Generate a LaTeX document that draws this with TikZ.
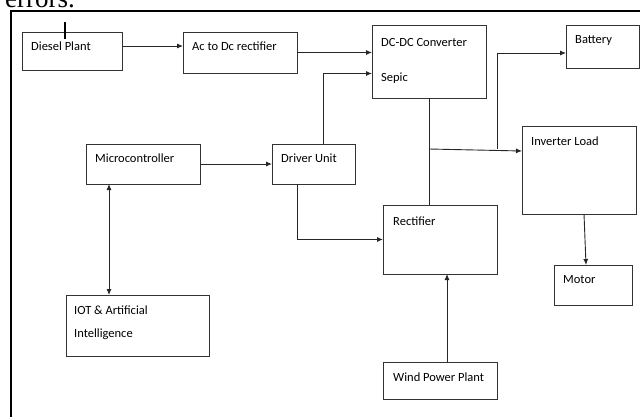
\documentclass[tikz,border=0pt]{standalone}
\usepackage{fontspec}
\setmainfont{Carlito}
\newfontfamily\pagefont{Liberation Serif}
\usepackage{tikz}
\usetikzlibrary{arrows.meta}
\tikzset{blockbox/.style={draw=black!80, line width=0.8pt, anchor=north west, inner sep=0pt, outer sep=0pt},
  blocktext/.style={anchor=base west, inner sep=0pt, text=black, font=\fontsize{12.5}{14}\selectfont},
  flowline/.style={draw=black!85, line width=0.9pt, -{Latex[length=6pt,width=5pt]}}
}

\begin{document}
\begin{tikzpicture}[x=1pt,y=-1pt]
      \useasboundingbox (0,0) rectangle (640,416);
      % cut line of the page text above
      \node[anchor=base west, inner sep=0pt, font=\pagefont\fontsize{27}{30}\selectfont] (pagetext) at (5,7) {errors.};
      \draw[line width=2.5pt] (11,420) -- (11,11) -- (645,11);
      % blocks
      \node[blockbox, minimum width=100pt, minimum height=38pt] (diesel) at (22,32) {};
      \node[blockbox, minimum width=114pt, minimum height=41pt] (acdc) at (183,32) {};
      \node[blockbox, minimum width=114pt, minimum height=73pt] (dcdc) at (372,25) {};
      \node[blockbox, minimum width=73pt, minimum height=43pt] (battery) at (566,25) {};
      \node[blockbox, minimum width=114pt, minimum height=88pt] (inverter) at (522,126) {};
      \node[blockbox, minimum width=78pt, minimum height=40pt] (motor) at (554,265) {};
      \node[blockbox, minimum width=114pt, minimum height=40pt] (micro) at (86,144) {};
      \node[blockbox, minimum width=83pt, minimum height=40pt] (driver) at (272,144) {};
      \node[blockbox, minimum width=114pt, minimum height=69pt] (rect) at (383,205) {};
      \node[blockbox, minimum width=143pt, minimum height=61pt] (iot) at (66,295) {};
      \node[blockbox, minimum width=114pt, minimum height=37pt] (wind) at (383,362) {};
      % block texts
      \node[blocktext] (diesel-t) at ([shift={(9,18)}]diesel.north west) {Diesel Plant};
      \node[blocktext] (acdc-t) at ([shift={(9,18)}]acdc.north west) {Ac to Dc rectifier};
      \node[blocktext] (dcdc-t) at ([shift={(9,21)}]dcdc.north west) {DC-DC Converter};
      \node[blocktext] (sepic-t) at ([shift={(9,56)}]dcdc.north west) {Sepic};
      \node[blocktext] (battery-t) at ([shift={(9,18)}]battery.north west) {Battery};
      \node[blocktext] (inverter-t) at ([shift={(9,19)}]inverter.north west) {Inverter Load};
      \node[blocktext] (motor-t) at ([shift={(9,18)}]motor.north west) {Motor};
      \node[blocktext] (micro-t) at ([shift={(9,18)}]micro.north west) {Microcontroller};
      \node[blocktext] (driver-t) at ([shift={(9,18)}]driver.north west) {Driver Unit};
      \node[blocktext] (rect-t) at ([shift={(10,20)}]rect.north west) {Rectifier};
      \node[blocktext] (iot-t) at ([shift={(8,19)}]iot.north west) {IOT \& Artificial};
      \node[blocktext] (iot-t2) at ([shift={(8,42)}]iot.north west) {Intelligence};
      \node[blocktext] (wind-t) at ([shift={(10,19)}]wind.north west) {Wind Power Plant};
      \draw[line width=1.2pt] ([shift={(43,-10)}]diesel.north west) coordinate (tick) -- ([yshift=-17pt]tick);
      % connectors
      \coordinate (j1) at ([yshift=-51pt]dcdc.south);
      \coordinate (j2) at ([xshift=68pt]j1);
      \draw[flowline] ([yshift=5pt]diesel.east) coordinate (d1) -- (d1 -| acdc.west);
      \draw[flowline] (acdc.east) -- (acdc.east -| dcdc.west);
      \draw[flowline] ([xshift=10pt]driver.north) |- ([yshift=-12pt]dcdc.west);
      \draw[flowline] (micro.east) -- (driver.west);
      \draw[flowline] ([xshift=-16pt]driver.south) |- (rect.west);
      \draw[flowline, {Latex[length=6pt,width=5pt]}-{Latex[length=6pt,width=5pt]}] ([xshift=-34pt]micro.south) coordinate (m1) -- (m1 |- iot.north);
      \draw[flowline, -] (dcdc.south) -- (dcdc.south |- rect.north);
      \draw[flowline] (j1) -- ([yshift=19pt]inverter.west);
      \draw[flowline] (j2) |- ([yshift=-6.5pt]battery.west);
      \draw[flowline] ([xshift=5pt]inverter.south) -- ([xshift=-7pt]motor.north);
      \draw[flowline] ([xshift=7pt]wind.north) -- ([xshift=7pt]rect.south);
    \end{tikzpicture}
\end{document}
